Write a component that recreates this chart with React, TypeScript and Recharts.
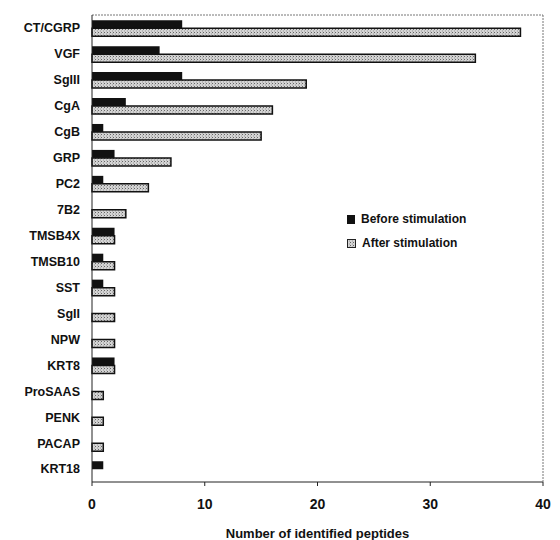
import React from "react";
import { BarChart, Bar, XAxis, YAxis } from "recharts";

const peptides = [
  "CT/CGRP", "VGF", "SgIII", "CgA", "CgB", "GRP", "PC2", "7B2", "TMSB4X",
  "TMSB10", "SST", "SgII", "NPW", "KRT8", "ProSAAS", "PENK", "PACAP", "KRT18",
];
const before = [8, 6, 8, 3, 1, 2, 1, 0, 2, 1, 1, 0, 0, 2, 0, 0, 0, 1];
const after = [38, 34, 19, 16, 15, 7, 5, 3, 2, 2, 2, 2, 2, 2, 1, 1, 1, 0];
const xTicks = [0, 10, 20, 30, 40];
const seriesNames = ["Before stimulation", "After stimulation"];

const font = "'Liberation Sans', Arial, sans-serif";

function LegendBox() {
  return (
    <div
      style={{
        position: "absolute",
        left: 339,
        top: 199,
        fontFamily: font,
        fontWeight: "bold",
        fontSize: 12,
        color: "#111",
        lineHeight: "24px",
      }}
    >
      <div style={{ display: "flex", alignItems: "center" }}>
        <span style={{ width: 8, height: 9, background: "#111", marginRight: 6, display: "inline-block" }} />
        {seriesNames[0]}
      </div>
      <div style={{ display: "flex", alignItems: "center" }}>
        <svg width={9} height={9} style={{ marginRight: 6 }}>
          <rect x={0.5} y={0.5} width={8} height={8} fill="url(#dots)" stroke="#222" />
        </svg>
        {seriesNames[1]}
      </div>
    </div>
  );
}

export default function App() {
  const data = peptides.map((p, i) => ({ name: p, before: before[i], after: after[i] }));
  return (
    <div style={{ width: 544, height: 532, background: "#fff", position: "relative" }}>
      <BarChart
        width={544}
        height={532}
        layout="vertical"
        data={data}
        margin={{ top: 6, right: 8, left: 0, bottom: 0 }}
        barCategoryGap="20%"
        barGap={0}
      >
        <defs>
          <pattern id="dots" width="3" height="3" patternUnits="userSpaceOnUse">
            <rect width="3" height="3" fill="#d4d4d4" />
            <rect width="1" height="1" fill="#666" />
            <rect x="2" y="1.5" width="1" height="1" fill="#999" />
          </pattern>
        </defs>
        <XAxis
          type="number"
          domain={[0, 40]}
          ticks={xTicks}
          height={58}
          tickSize={4}
          tickMargin={13}
          stroke="#222"
          tick={{ fill: "#111", fontFamily: font, fontWeight: "bold", fontSize: 14 }}
          label={{
            value: "Number of identified peptides",
            position: "insideBottom",
            offset: 2,
            fill: "#111",
            fontFamily: font,
            fontWeight: "bold",
            fontSize: 13,
          }}
        />
        <XAxis xAxisId="top" type="number" domain={[0, 40]} orientation="top" height={1} tick={false} tickLine={false} stroke="#777" strokeDasharray="2 1" />
        <YAxis
          type="category"
          dataKey="name"
          width={84}
          tickLine={false}
          tickSize={4}
          tickMargin={8}
          stroke="#222"
          interval={0}
          tick={{ fill: "#111", fontFamily: font, fontWeight: "bold", fontSize: 12.5 }}
        />
        <YAxis yAxisId="right" type="category" dataKey="name" orientation="right" width={1} tick={false} tickLine={false} stroke="#777" strokeDasharray="2 1" />
        <Bar dataKey="before" name={seriesNames[0]} fill="#111" isAnimationActive={false} />
        <Bar dataKey="after" name={seriesNames[1]} fill="url(#dots)" stroke="#111" strokeWidth={1.5} isAnimationActive={false} />
      </BarChart>
      <LegendBox />
    </div>
  );
}
